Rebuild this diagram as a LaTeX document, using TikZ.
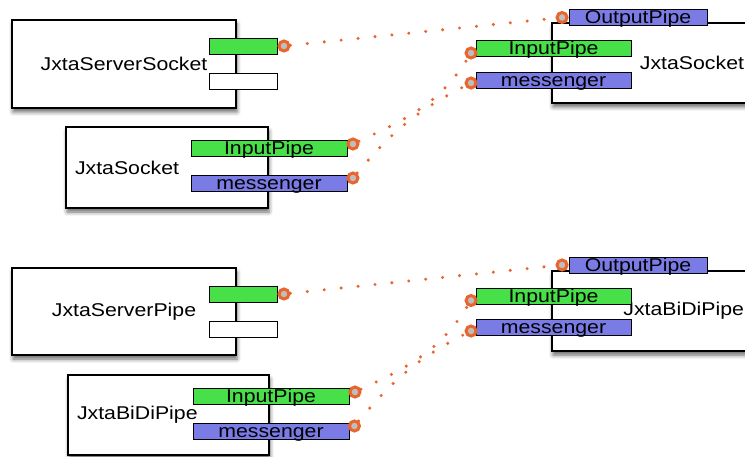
\documentclass[tikz,border=0pt]{standalone}
\usepackage{fontspec}
\setmainfont{Liberation Sans}[FakeStretch=1.15]
\usetikzlibrary{positioning,shadows.blur}

\definecolor{pipegreen}{HTML}{48E048}
\definecolor{pipeblue}{HTML}{7B7BE6}
\definecolor{wireorange}{HTML}{E8662E}
\definecolor{pluggrey}{HTML}{BEBEBE}

\begin{document}
\begin{tikzpicture}[x=1pt, y=1pt, font=\fontsize{18.5}{20}\selectfont]
      \tikzstyle{component} = [rectangle, draw=black, line width=1.2pt, fill=white, inner sep=0pt, blur shadow={shadow xshift=1pt, shadow yshift=-4pt, shadow blur radius=4pt, shadow opacity=60}]
      \tikzstyle{pipe} = [rectangle, draw=black, line width=0.9pt, inner sep=0pt, minimum height=16pt, text height=13pt, text depth=0pt]
      \tikzstyle{inpipe} = [pipe, fill=pipegreen]
      \tikzstyle{outpipe} = [pipe, fill=pipeblue]
      \tikzstyle{plug} = [circle, draw=wireorange, fill=pluggrey, line width=3pt, minimum size=10pt, inner sep=0pt]
      \tikzstyle{wire} = [draw=wireorange, line width=3.4pt, line cap=round, dash pattern=on 0pt off 17pt]

      \useasboundingbox (0,0) rectangle (745,-457);
      \clip (0,0) rectangle (745,-457);

      \node (server-socket) [component, minimum width=224pt, minimum height=88pt] at (124,-64) {JxtaServerSocket};
      \node (server-socket-accept) [inpipe, minimum width=68pt] at (243,-46) {};
      \node (server-socket-idle) [pipe, fill=white, minimum width=68pt] at (243,-81) {};
      \node (client-socket) [component, minimum width=202pt, minimum height=81pt, text width=184pt, align=left] at (167,-167.5) {JxtaSocket};
      \node (client-socket-in) [inpipe, minimum width=156pt] at (269,-148) {InputPipe};
      \node (client-socket-msg) [outpipe, minimum width=156pt] at (269,-183) {messenger};
      \node (peer-socket) [component, minimum width=213pt, minimum height=80pt, text width=171pt, align=right] at (658.5,-63) {JxtaSocket};
      \node (peer-socket-out) [outpipe, minimum width=138pt] at (638,-17.5) {OutputPipe};
      \node (peer-socket-in) [inpipe, minimum width=155pt] at (553.5,-48.5) {InputPipe};
      \node (peer-socket-msg) [outpipe, minimum width=155pt] at (553.5,-80) {messenger};

      \node (server-socket-plug) [plug, right=0pt of server-socket-accept] {};
      \node (client-socket-in-plug) [plug, right=-1pt of client-socket-in, yshift=4pt] {};
      \node (client-socket-msg-plug) [plug, right=-1pt of client-socket-msg, yshift=5pt] {};
      \node (peer-socket-out-plug) [plug, left=0pt of peer-socket-out] {};
      \node (peer-socket-in-plug) [plug, left=-2pt of peer-socket-in, yshift=-4.5pt] {};
      \node (peer-socket-msg-plug) [plug, left=-2pt of peer-socket-msg, yshift=-3pt] {};

      \node (server-pipe) [component, minimum width=224pt, minimum height=87pt] at (124,-311.5) {JxtaServerPipe};
      \node (server-pipe-accept) [inpipe, minimum width=68pt] at (243,-294) {};
      \node (server-pipe-idle) [pipe, fill=white, minimum width=68pt] at (243,-329) {};
      \node (client-pipe) [component, minimum width=201pt, minimum height=80pt, text width=183pt, align=left] at (168.5,-415) {JxtaBiDiPipe};
      \node (client-pipe-in) [inpipe, minimum width=156pt] at (271,-396) {InputPipe};
      \node (client-pipe-msg) [outpipe, minimum width=156pt] at (271,-431) {messenger};
      \node (peer-pipe) [component, minimum width=213pt, minimum height=80pt, text width=171pt, align=right] at (658.5,-311) {JxtaBiDiPipe};
      \node (peer-pipe-out) [outpipe, minimum width=138pt] at (638,-265) {OutputPipe};
      \node (peer-pipe-in) [inpipe, minimum width=155pt] at (553.5,-296) {InputPipe};
      \node (peer-pipe-msg) [outpipe, minimum width=155pt] at (553.5,-327) {messenger};

      \node (server-pipe-plug) [plug, right=0pt of server-pipe-accept] {};
      \node (client-pipe-in-plug) [plug, right=-1pt of client-pipe-in, yshift=4pt] {};
      \node (client-pipe-msg-plug) [plug, right=-1.5pt of client-pipe-msg, yshift=5pt] {};
      \node (peer-pipe-out-plug) [plug, left=0pt of peer-pipe-out] {};
      \node (peer-pipe-in-plug) [plug, left=-2pt of peer-pipe-in, yshift=-4.5pt] {};
      \node (peer-pipe-msg-plug) [plug, left=-2pt of peer-pipe-msg, yshift=-4pt] {};

      \draw [wire] (server-socket-plug) -- (peer-socket-out-plug);
      \draw [wire] (client-socket-in-plug) to[out=25, in=238] (peer-socket-in-plug);
      \draw [wire] (client-socket-msg-plug) to[out=50, in=207] (peer-socket-msg-plug);
      \draw [wire] (server-pipe-plug) -- (peer-pipe-out-plug);
      \draw [wire] (client-pipe-in-plug) to[out=25, in=238] (peer-pipe-in-plug);
      \draw [wire] (client-pipe-msg-plug) to[out=50, in=207] (peer-pipe-msg-plug);
    \end{tikzpicture}
\end{document}
